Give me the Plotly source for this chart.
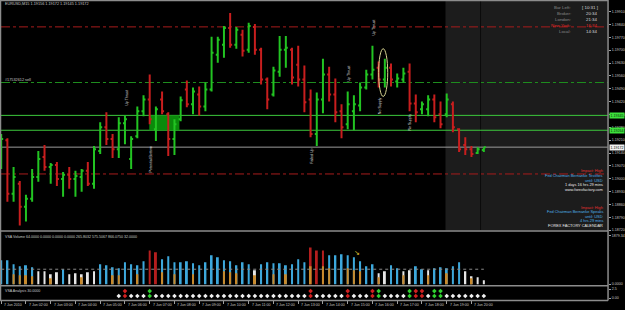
import pandas as pd
import plotly.graph_objects as go

# ---------------- data (EURUSD M15, prices in points: 1 point = 0.00001) ----------------
symbol = "EURUSD,M15"
bar_start = "2010-06-07 01:00"

open_pts = [119107, 119210, 118918, 118972, 118848, 118891, 119010, 119118, 119064, 119075,
            118999, 119021, 118999, 119010, 119043, 118972, 119151, 119280, 119216, 119161,
            119302, 119107, 119232, 119367, 119432, 119270, 119432, 119351, 119216, 119324,
            119486, 119405, 119459, 119394, 119486, 119675, 119729, 119821, 119729, 119784,
            119702, 119827, 119702, 119540, 119459, 119583, 119702, 119702, 119621, 119540,
            119432, 119243, 119432, 119567, 119459, 119367, 119297, 119367, 119399, 119497,
            119567, 119605, 119540, 119605, 119529, 119540, 119583, 119410, 119378, 119378,
            119432, 119351, 119351, 119405, 119270, 119183, 119161, 119140, 119156]
high_pts = [119243, 119221, 119064, 118988, 118913, 119053, 119151, 119183, 119086, 119091,
            119037, 119064, 119043, 119053, 119091, 119178, 119308, 119362, 119243, 119335,
            119345, 119232, 119394, 119454, 119567, 119394, 119475, 119362, 119324, 119448,
            119535, 119497, 119502, 119524, 119773, 119773, 119832, 119903, 119827, 119811,
            119849, 119843, 119713, 119551, 119610, 119778, 119778, 119713, 119724, 119616,
            119486, 119470, 119654, 119610, 119546, 119405, 119475, 119454, 119524, 119594,
            119724, 119638, 119654, 119627, 119573, 119605, 119627, 119459, 119421, 119454,
            119459, 119421, 119464, 119421, 119275, 119226, 119178, 119172, 119172]
low_pts = [119053, 118875, 118875, 118745, 118767, 118875, 118983, 119043, 118972, 118961,
           118902, 118945, 118902, 118929, 118961, 118945, 119134, 119183, 119113, 119113,
           119188, 119053, 119221, 119340, 119297, 119205, 119351, 119124, 119129, 119313,
           119389, 119351, 119345, 119367, 119475, 119632, 119659, 119713, 119708, 119665,
           119686, 119675, 119513, 119378, 119448, 119556, 119605, 119513, 119502, 119362,
           119226, 119178, 119356, 119421, 119308, 119221, 119270, 119264, 119367, 119486,
           119540, 119497, 119497, 119502, 119497, 119524, 119367, 119308, 119351, 119340,
           119308, 119275, 119335, 119253, 119145, 119129, 119118, 119134, 119145]
close_pts = [119216, 118918, 119010, 118848, 118891, 119010, 119107, 119064, 119075, 118999,
             119021, 118999, 119015, 119043, 118972, 119161, 119280, 119216, 119161, 119302,
             119324, 119216, 119367, 119432, 119324, 119378, 119367, 119216, 119297, 119427,
             119405, 119475, 119394, 119486, 119686, 119757, 119821, 119729, 119811, 119697,
             119832, 119702, 119540, 119432, 119589, 119702, 119713, 119551, 119540, 119416,
             119243, 119432, 119567, 119459, 119362, 119280, 119405, 119405, 119497, 119567,
             119594, 119540, 119605, 119540, 119546, 119573, 119410, 119362, 119405, 119432,
             119335, 119297, 119432, 119280, 119161, 119161, 119134, 119161, 119172]

volume = [919, 919, 766, 689, 728, 651, 498, 498, 383, 459,
          574, 383, 421, 383, 459, 498, 766, 728, 651, 613,
          843, 766, 728, 881, 1302, 1226, 958, 1073, 843, 843,
          881, 804, 728, 843, 1111, 1034, 919, 881, 728, 843,
          766, 536, 766, 843, 804, 804, 728, 766, 958, 843,
          1417, 1302, 1302, 1111, 1111, 1149, 1111, 1034, 881, 689,
          766, 421, 498, 728, 613, 498, 536, 689, 574, 536,
          613, 651, 613, 689, 843, 498, 306, 268, 153]
volume_class = ("bbbbbbwwwwbwwwwwbbbbbbbbrrbbbbbbbbbbbbbbbwbbbbbbbbrrrbbbbbbbbwwbbwwbbwbbbbbwwww")
volume_low = [0, 0, 383, 345, 345, 306, 0, 0, 230, 0,
              0, 0, 0, 268, 0, 0, 0, 0, 345, 345,
              0, 0, 383, 0, 0, 0, 460, 0, 383, 0,
              0, 383, 0, 0, 0, 0, 498, 460, 421, 0,
              0, 345, 0, 0, 383, 0, 383, 0, 0, 0,
              690, 0, 690, 613, 0, 0, 613, 536, 498, 0,
              0, 268, 0, 0, 0, 345, 0, 0, 0, 345,
              0, 0, 421, 0, 0, 0, 230, 0, 0]
volume_avg = 575.5067
volume_title = "VSA Volume 64.0000 0.0000 0.0000 0.0000 265.8032 575.5067 866.0750 32.0000"

signals = ("-------------------" "wrwwwg" "wwwwwwwwwwwwwwwwwwwwwwwww" "r" "wwwww" "r" "www"
           "rg" "wwww" "g" "rr" "w" "gg" "wwwwwww")

price_ticks = [1.19910 - 0.0007 * k for k in range(18)]
red_levels = [1.19827, 1.19026]
order_level = 1.19524
zone_levels = [1.19345, 1.19264]
zone_time = ["2010-06-07 06:59", "2010-06-07 08:12"]
future_start = "2010-06-07 18:57"
now_line = "2010-06-07 20:22"

vsa_labels = [("Up Thrust", "2010-06-07 06:06", 1.19443),
              ("Potential Bottom", "2010-06-07 07:04", 1.19107),
              ("Failed Up", "2010-06-07 13:33", 1.19124),
              ("Up Thrust", "2010-06-07 15:03", 1.19573),
              ("Up Thrust", "2010-06-07 16:03", 1.19822),
              ("No Supply", "2010-06-07 16:18", 1.19400),
              ("No Supply", "2010-06-07 17:32", 1.19308)]

clock_rows = [("Bar Left:", "[ 10:31 ]"), ("Broker:", "20:34"), ("London:", "21:34"),
              ("New York:", "16:34"), ("Local:", "14:34")]
news_block1 = ["Impact: High", "Fed Chairman Bernanke Testifies", "until: USD",
               "1 days 16 hrs 29 mins", "www.forexfactory.com"]
news_block2 = ["Impact: High", "Fed Chairman Bernanke Speaks", "until: USD",
               "4 hrs 29 mins", "FOREX FACTORY CALENDAR"]
hour_labels = ["7 Jun 2010"] + ["7 Jun %02d:00" % h for h in range(2, 21)]
hour_ticks = ["2010-06-07 %02d:00" % h for h in range(1, 21)]

for arr in (open_pts, high_pts, low_pts, close_pts, volume, volume_low):
    assert len(arr) == 79
assert len(volume_class) == 79 and len(signals) == 79

# ---------------- figure ----------------
W, H = 625, 310
FONT = "Liberation Sans, Arial, sans-serif"
times = pd.date_range(bar_start, periods=len(open_pts), freq="15min")
px = lambda p: [v / 100000 for v in p]
opn, hi, lo, cl = px(open_pts), px(high_pts), px(low_pts), px(close_pts)
bid = cl[-1]

def py(y):  # pixel row -> paper fraction
    return 1 - y / H

x_dom = [1 / W, 610 / W]
x_range = ["2010-06-07 00:59:30", "2010-06-08 01:31:07"]

fig = go.Figure()
fig.add_trace(go.Ohlc(
    x=times, open=opn, high=hi, low=lo, close=cl, tickwidth=0.32,
    increasing=dict(line=dict(color="#22c422", width=2)),
    decreasing=dict(line=dict(color="#c81e1e", width=2)),
    xaxis="x", yaxis="y", showlegend=False, hoverinfo="skip"))

vcol = {"b": "#3da8dc", "w": "#e6e6e6", "r": "#b41e1e"}
bw = 290000
fig.add_trace(go.Bar(x=times, y=volume, width=bw, marker=dict(color=[vcol[c] for c in volume_class], line=dict(width=0)),
                     xaxis="x2", yaxis="y2", showlegend=False, hoverinfo="skip"))
fig.add_trace(go.Bar(x=times, y=volume_low, width=bw, marker=dict(color="#c98a2c", line=dict(width=0)),
                     xaxis="x2", yaxis="y2", showlegend=False, hoverinfo="skip"))

scol = {"w": "#f0f0f0", "r": "#d02020", "g": "#30d030"}
for row_val, keep in ((0.56, lambda s: s != "-"), (1.94, lambda s: s in "rg")):
    xs = [t for t, s in zip(times, signals) if s != "-" and keep(s)]
    cs = [scol[s] for s in signals if s != "-" and keep(s)]
    fig.add_trace(go.Scatter(x=xs, y=[row_val] * len(xs), mode="markers",
                             marker=dict(symbol="diamond", size=3.5, color=cs, line=dict(width=0)),
                             xaxis="x3", yaxis="y3", showlegend=False, hoverinfo="skip"))

axis_common = dict(showgrid=False, zeroline=False, showline=False, type="date", range=x_range, domain=x_dom)
tickfont = dict(family=FONT, size=3.6, color="#c8c8c8")
fig.update_layout(
    width=W, height=H, margin=dict(l=0, r=0, t=0, b=0),
    paper_bgcolor="#000000", plot_bgcolor="#000000",
    barmode="overlay", showlegend=False,
    xaxis=dict(**axis_common, anchor="y", showticklabels=False, rangeslider=dict(visible=False)),
    xaxis2=dict(**axis_common, anchor="y2", matches="x", showticklabels=False),
    xaxis3=dict(**axis_common, anchor="y3", matches="x", showticklabels=False,
                tickvals=hour_ticks, ticks="outside", ticklen=3, tickcolor="#a0a0a0", tickwidth=1),
    yaxis=dict(domain=[py(232), py(1)], anchor="x", side="right", range=[1.18718, 1.19968],
               tickvals=price_ticks, ticktext=["%.5f" % v for v in price_ticks],
               ticks="outside", ticklen=2, tickcolor="#a0a0a0", tickfont=tickfont,
               showgrid=False, zeroline=False),
    yaxis2=dict(domain=[py(287), py(233)], anchor="x2", side="right", range=[-38, 2030],
                tickvals=[1879.34, 0], ticktext=["1879.34", "0.0000"], ticks="outside", ticklen=2,
                tickcolor="#a0a0a0", tickfont=tickfont, showgrid=False, zeroline=False),
    yaxis3=dict(domain=[py(302), py(288)], anchor="x3", side="right", range=[-0.56, 3.33],
                tickvals=[2.5, 0], ticktext=["2.5", "0.00"], ticks="outside", ticklen=2,
                tickcolor="#a0a0a0", tickfont=tickfont, showgrid=False, zeroline=False),
)

shapes = []
# future / session shaded area in the price pane
shapes.append(dict(type="rect", xref="x", yref="y domain", x0=future_start, x1=x_range[1], y0=0, y1=1,
                   fillcolor="#1c1c1c", line=dict(width=0), layer="below"))
shapes.append(dict(type="line", xref="x", yref="y domain", x0=now_line, x1=now_line, y0=0, y1=1,
                   line=dict(color="#0c0c0c", width=1), layer="below"))
# supply/demand zone
shapes.append(dict(type="rect", xref="x", yref="y", x0=zone_time[0], x1=zone_time[1],
                   y0=zone_levels[1], y1=zone_levels[0], fillcolor="#0b8a0b", line=dict(width=0), layer="below"))
for lv in zone_levels:
    shapes.append(dict(type="line", xref="x domain", yref="y", x0=0, x1=1, y0=lv, y1=lv,
                       line=dict(color="#3cc83c", width=1), layer="below"))
for lv in red_levels:
    shapes.append(dict(type="line", xref="x domain", yref="y", x0=0, x1=1, y0=lv, y1=lv,
                       line=dict(color="#a81c1c", width=1, dash="dashdot"), layer="below"))
shapes.append(dict(type="line", xref="x domain", yref="y", x0=0, x1=1, y0=order_level, y1=order_level,
                   line=dict(color="#1e8c1e", width=1, dash="dashdot"), layer="below"))
shapes.append(dict(type="line", xref="x domain", yref="y", x0=0, x1=1, y0=bid, y1=bid,
                   line=dict(color="#9a9a9a", width=1), layer="below"))
# highlighted bar (ellipse)
shapes.append(dict(type="circle", xref="x", yref="y", x0="2010-06-07 16:15", x1="2010-06-07 16:37",
                   y0=1.19448, y1=1.19708, line=dict(color="#d8d490", width=1)))
# average volume dotted line
shapes.append(dict(type="line", xref="x2", yref="y2", x0=times[0], x1=times[-1], y0=volume_avg, y1=volume_avg,
                   line=dict(color="#8a8a8a", width=1, dash="dot")))
# pane frames
G = "#8c8c8c"
for yy in (0.5, 232.5, 287.5, 302.5):
    shapes.append(dict(type="line", xref="paper", yref="paper", x0=0, x1=610 / W, y0=py(yy), y1=py(yy),
                       line=dict(color=G, width=1.5)))
for xx in (0.5, 610):
    shapes.append(dict(type="line", xref="paper", yref="paper", x0=xx / W, x1=xx / W, y0=py(302.5), y1=1,
                       line=dict(color=G, width=1.5)))
fig.update_layout(shapes=shapes)

ann = []
def txt(x, y, s, color="#d0d0d0", size=3.8, xanchor="left", xref="paper", yref="paper", **kw):
    ann.append(dict(x=x, y=y, xref=xref, yref=yref, text=s, showarrow=False, xanchor=xanchor,
                    yanchor="middle", font=dict(family=FONT, size=size, color=color), **kw))

txt(3 / W, py(4.5), "%s %.5f %.5f %.5f %.5f" % (symbol, opn[-1], hi[-1], lo[-1], cl[-1]), color="#c8c8c8")
txt(3 / W, py(80.5), "#17532612 sell", color="#c8c8c8")
for s, t, p in vsa_labels:
    txt(t, p, s, color="#e0e0e0", size=3.6, xanchor="center", xref="x", yref="y", textangle=-90)

for i, (lab, val) in enumerate(clock_rows):
    yy = py(7.5 + 6.1 * i)
    red = lab.startswith("New York")
    txt(575 / W, yy, lab, color="#e02828" if red else "#8a8a8a", size=4.4, xanchor="right")
    txt(602 / W, yy, val, color="#e02828" if red else "#d8d8d8", size=4.4, xanchor="right")

blue = "#4fb0e8"
c1 = ["#e03030", blue, blue, "#e8e8e8", "#e8e8e8"]
c2 = ["#e03030", blue, blue, blue, "#e8e8e8"]
for i, s in enumerate(news_block1):
    txt(607 / W, py(172 + 4.6 * i), s, color=c1[i], size=3.9, xanchor="right")
for i, s in enumerate(news_block2):
    txt(607 / W, py(208.5 + 4.6 * i), s, color=c2[i], size=3.9, xanchor="right")

# highlighted price labels on the axis
for lv in zone_levels:
    txt(611 / W, lv, "%.5f" % lv, color="#0a2a0a", size=3.6, yref="y", bgcolor="#3ce03c", borderpad=0.5)
txt(611 / W, bid, "%.5f" % bid, color="#000000", size=3.6, yref="y", bgcolor="#f0f0f0", borderpad=0.5)

txt(3 / W, py(238.5), volume_title, color="#c8c8c8", size=3.6)
txt(3 / W, py(292.5), "VSA Analysis 30.0000", color="#c8c8c8", size=3.6)
txt("2010-06-07 15:22", 1226, "\u2198", color="#e8c832", size=7, xanchor="center", xref="x2", yref="y2")

for t, s in zip(hour_ticks, hour_labels):
    txt(t, py(307), s, color="#c8c8c8", size=3.6, xref="x3", xshift=1)

fig.update_layout(annotations=ann)
fig.write_html("out.html")
